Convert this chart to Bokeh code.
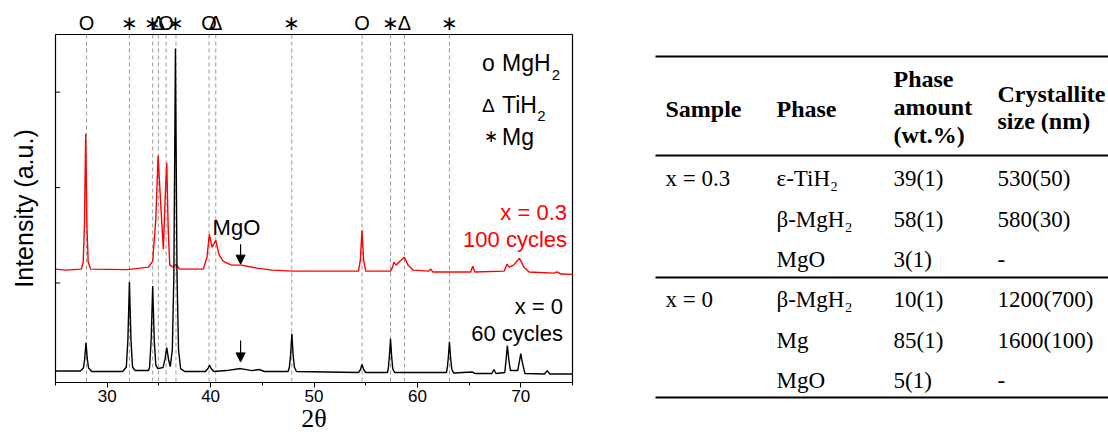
from bokeh.plotting import figure
from bokeh.layouts import row
from bokeh.models import (Range1d, LinearAxis, FixedTicker, SingleIntervalTicker, Span,
                          Label, Arrow, NormalHead, AllLabels)
from bokeh.core.properties import value
from bokeh.embed import file_html
from bokeh.resources import INLINE

# ---------------- data ----------------
# x = 0, 60 cycles (black)
two_theta_black = [25.0, 27.4, 27.7, 27.82, 27.95, 28.08, 28.2, 28.5, 31.5, 31.85, 32.0, 32.15, 32.3,
                   32.45, 32.7, 34.0, 34.1, 34.25, 34.4, 34.55, 34.7, 34.9, 35.4, 35.6, 35.76, 35.95,
                   36.1, 36.3, 36.45, 36.6, 36.75, 36.9, 37.1, 37.5, 39.5, 39.75, 39.9, 40.05, 40.3,
                   41.5, 42.9, 44.0, 44.7, 45.2, 47.5, 47.62, 47.74, 47.86, 47.98, 48.1, 48.3, 54.3,
                   54.5, 54.64, 54.8, 55.0, 57.1, 57.18, 57.29, 57.4, 57.51, 57.62, 57.8, 62.8, 62.88,
                   62.99, 63.1, 63.21, 63.32, 63.5, 65.3, 65.6, 67.2, 67.4, 67.6, 68.45, 68.58, 68.7,
                   68.85, 69.0, 69.7, 69.85, 70.0, 70.15, 70.4, 72.3, 72.55, 72.8, 75.0]
intensity_black = [0.078, 0.078, 0.11, 0.2, 0.375, 0.2, 0.11, 0.073, 0.073, 0.12, 0.4, 1.010, 0.4, 0.12,
                   0.083, 0.083, 0.12, 0.4, 0.969, 0.4, 0.14, 0.104, 0.115, 0.208, 0.323, 0.188, 0.125,
                   0.3, 1.1, 3.458, 1.1, 0.3, 0.104, 0.073, 0.073, 0.104, 0.139, 0.104, 0.073, 0.083,
                   0.104, 0.083, 0.094, 0.073, 0.073, 0.12, 0.25, 0.469, 0.25, 0.12, 0.073, 0.063,
                   0.094, 0.146, 0.094, 0.063, 0.063, 0.1, 0.23, 0.417, 0.23, 0.1, 0.063, 0.063, 0.1,
                   0.22, 0.385, 0.22, 0.1, 0.057, 0.068, 0.052, 0.052, 0.094, 0.052, 0.063, 0.2, 0.344,
                   0.188, 0.083, 0.083, 0.17, 0.260, 0.167, 0.052, 0.047, 0.083, 0.047, 0.047]

# x = 0.3, 100 cycles (red)
two_theta_red = [25.0, 26.0, 27.5, 27.68, 27.8, 27.92, 28.04, 28.16, 28.4, 32.0, 34.0, 34.4, 34.7, 34.92,
                 35.15, 35.43, 35.6, 35.76, 35.9, 36.05, 36.4, 36.65, 37.0, 39.3, 39.65, 39.88, 40.15,
                 40.5, 40.8, 41.2, 42.0, 43.0, 44.5, 46.0, 48.0, 54.3, 54.48, 54.64, 54.8, 55.0, 57.4,
                 57.6, 57.72, 57.95, 58.3, 58.74, 59.1, 59.6, 61.1, 61.3, 61.5, 65.15, 65.35, 65.55,
                 68.4, 68.65, 68.9, 69.3, 69.87, 70.3, 70.8, 73.2, 73.5, 73.9, 75.0]
intensity_red = [1.146, 1.135, 1.146, 1.22, 1.6, 2.563, 1.6, 1.22, 1.146, 1.141, 1.167, 1.229, 1.667,
                 2.333, 1.875, 1.354, 1.875, 2.260, 1.563, 1.188, 1.167, 1.198, 1.146, 1.146, 1.271,
                 1.510, 1.375, 1.448, 1.302, 1.229, 1.188, 1.188, 1.156, 1.135, 1.125, 1.125, 1.24,
                 1.552, 1.24, 1.125, 1.125, 1.167, 1.219, 1.188, 1.229, 1.271, 1.188, 1.135, 1.125,
                 1.146, 1.115, 1.115, 1.177, 1.115, 1.125, 1.198, 1.167, 1.188, 1.260, 1.167, 1.115,
                 1.104, 1.118, 1.094, 1.091]

# reference reflections marked on top
ref_positions = [28.0, 32.15, 34.4, 34.95, 35.7, 36.65, 39.85, 40.5, 47.85, 54.65, 57.4, 58.75, 63.1]
ref_symbols = ["O", "\u2217", "\u2217", "\u0394", "O", "\u2217", "O", "\u0394", "\u2217", "O",
               "\u2217", "\u0394", "\u2217"]

legend_symbols = ["o", "\u0394", "\u2217"]
legend_names = ["MgH", "TiH", "Mg"]
legend_subscripts = ["2", "2", ""]

y_ticks = [1, 2, 3]

mgo_position = 42.9
mgo_arrow_red = [1.406, 1.198]
mgo_arrow_black = [0.399, 0.174]

# table
table_headers = [["Sample"], ["Phase"], ["Phase", "amount", "(wt.%)"], ["Crystallite", "size (nm)"]]
table_sample = ["x = 0.3", "", "", "x = 0", "", ""]
table_phase = ["\u03b5-TiH\u2082", "\u03b2-MgH\u2082", "MgO", "\u03b2-MgH\u2082", "Mg", "MgO"]
table_amount = ["39(1)", "58(1)", "3(1)", "10(1)", "85(1)", "5(1)"]
table_size = ["530(50)", "580(30)", "-", "1200(700)", "1600(100)", "-"]

SANS = "Liberation Sans"
SERIF = "Liberation Serif"

# ---------------- XRD plot ----------------
p = figure(width=600, height=435, x_range=Range1d(25, 75), y_range=Range1d(-0.042, 3.604),
           output_backend="svg", toolbar_location=None,
           min_border_left=55, min_border_right=28, min_border_top=34, min_border_bottom=0)
p.frame_align = False
p.grid.visible = False
p.outline_line_color = "black"
p.outline_line_width = 1.2
p.background_fill_color = "white"
p.border_fill_color = "white"

xa = p.xaxis[0]
xa.ticker = SingleIntervalTicker(interval=10, num_minor_ticks=2)
xa.axis_label = "2\u03b8"
xa.axis_label_text_font = SERIF
xa.axis_label_text_font_style = "normal"
xa.axis_label_text_font_size = "26px"
xa.axis_label_text_color = "black"
xa.axis_label_standoff = -1
xa.major_label_text_font = SANS
xa.major_label_text_font_size = "17px"
xa.major_label_text_color = "black"
xa.major_label_standoff = 2
xa.major_tick_in = 0
xa.major_tick_out = 5
xa.minor_tick_in = 0
xa.minor_tick_out = 3
xa.axis_line_color = "black"
xa.major_tick_line_color = "black"
xa.minor_tick_line_color = "black"

ya = p.yaxis[0]
ya.ticker = FixedTicker(ticks=[])
ya.major_label_standoff = 0
ya.major_tick_in = 0
ya.major_tick_out = 0
ya.axis_label = "Intensity (a.u.)"
ya.axis_label_text_font = SANS
ya.axis_label_text_font_style = "normal"
ya.axis_label_text_font_size = "25px"
ya.axis_label_text_color = "black"
ya.axis_label_standoff = 18
ya.axis_line_color = "black"

# inward y ticks on the left edge
p.segment(x0=[25] * len(y_ticks), y0=y_ticks, x1=[25.45] * len(y_ticks), y1=y_ticks,
          line_color="black", line_width=1)

top_axis = LinearAxis(ticker=FixedTicker(ticks=ref_positions),
                      major_label_overrides={pos: sym for pos, sym in zip(ref_positions, ref_symbols)},
                      major_label_policy=AllLabels(),
                      axis_line_color=None, major_tick_line_color=None, minor_tick_line_color=None,
                      major_tick_out=0, major_tick_in=0,
                      major_label_standoff=1, major_label_text_font=SANS,
                      major_label_text_font_size="20px", major_label_text_color="black")
p.add_layout(top_axis, "above")

for pos in ref_positions:
    p.add_layout(Span(location=pos, dimension="height", line_color="#9a9a9a", line_dash="4 3",
                      line_width=1, level="underlay"))

p.line(two_theta_red, intensity_red, line_color="#ff0000", line_width=1.4)
p.line(two_theta_black, intensity_black, line_color="black", line_width=1.4)

# MgO arrows
for ys in (mgo_arrow_red, mgo_arrow_black):
    p.add_layout(Arrow(end=NormalHead(size=9, fill_color="black", line_color="black"),
                       x_start=mgo_position, y_start=ys[0], x_end=mgo_position, y_end=ys[1],
                       line_color="black", line_width=1.2))


def lab(x, y, text, size, color="black", align="left", font=SANS):
    p.add_layout(Label(x=x, y=y, text=text, text_font=font, text_font_size=size,
                       text_color=color, text_align=align, text_baseline="middle"))


lab(42.5, 1.583, "MgO", "22px", align="center")
lab(74.47, 1.740, "x = 0.3", "22px", color="#ff0000", align="right")
lab(74.47, 1.458, "100 cycles", "22px", color="#ff0000", align="right")
lab(74.08, 0.750, "x = 0", "22px", align="right")
lab(74.08, 0.469, "60 cycles", "22px", align="right")

# legend
leg_y = [3.302, 2.865, 2.531]
sym_sizes = ["23px", "19px", "17px"]
sym_x = [66.25, 66.25, 66.44]
sub_x = [73.0, 71.6]
for i, (s, n, sub) in enumerate(zip(legend_symbols, legend_names, legend_subscripts)):
    lab(sym_x[i], leg_y[i], s, sym_sizes[i])
    lab(68.18, leg_y[i], n, "23px")
    if sub:
        lab(sub_x[i], leg_y[i] - 0.12, sub, "15px")

# ---------------- table ----------------
t = figure(width=508, height=435, x_range=Range1d(0, 508), y_range=Range1d(435, 0),
           output_backend="svg", toolbar_location=None, min_border=0,
           x_axis_location=None, y_axis_location=None)
t.frame_align = False
t.grid.visible = False
t.outline_line_color = None

col_x = [65, 176, 293, 397]
rule_y = [56, 155, 277, 397]
t.segment(x0=[55] * 4, y0=rule_y, x1=[508] * 4, y1=rule_y, line_color="black", line_width=2)

header_y = [[108], [108], [78, 106, 134], [93, 120]]
hx, hy, ht = [], [], []
for c, lines in enumerate(table_headers):
    for j, txt in enumerate(lines):
        hx.append(col_x[c]); hy.append(header_y[c][j]); ht.append(txt)
t.text(x=hx, y=hy, text=ht, text_font=value(SERIF), text_font_style="bold",
       text_font_size="24px", text_baseline="middle", text_align="left", text_color="black")

row_y = [178, 219, 259, 299, 340, 380]
bx, by, bt = [], [], []
for c, col in enumerate([table_sample, table_phase, table_amount, table_size]):
    for r, txt in enumerate(col):
        if txt:
            bx.append(col_x[c]); by.append(row_y[r]); bt.append(txt)
t.text(x=bx, y=by, text=bt, text_font=value(SERIF), text_font_size="23px",
       text_baseline="middle", text_align="left", text_color="black")

layout = row(p, t)
open("out.html", "w").write(file_html(layout, INLINE))
